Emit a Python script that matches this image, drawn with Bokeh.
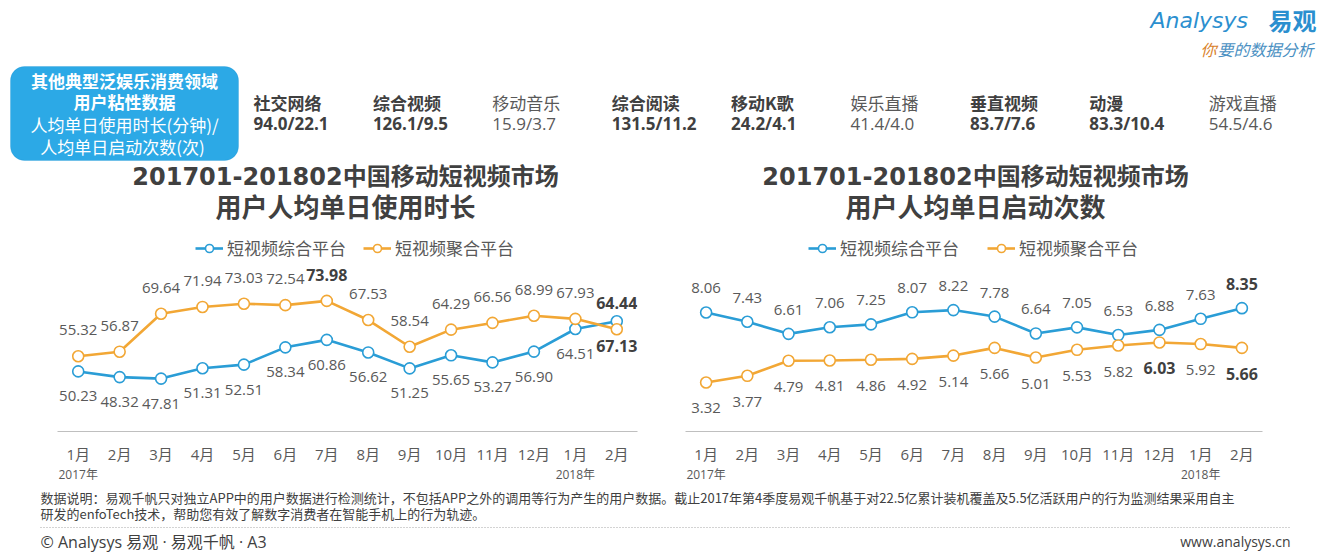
from bokeh.plotting import figure
from bokeh.models import (FactorRange, Range1d, CategoricalAxis, Label, Legend,
                          LegendItem, BoxAnnotation, CustomJSTickFormatter)
from bokeh.layouts import column, row
from bokeh.embed import file_html
from bokeh.resources import INLINE
from bokeh.core.properties import value

# ---------------- data ----------------
month_keys = ["2017-01", "2017-02", "2017-03", "2017-04", "2017-05", "2017-06", "2017-07",
              "2017-08", "2017-09", "2017-10", "2017-11", "2017-12", "2018-01", "2018-02"]
month_labels = ["1月", "2月", "3月", "4月", "5月", "6月", "7月", "8月", "9月", "10月",
                "11月", "12月", "1月", "2月"]
year_keys = ["2017-01", "2018-01"]
year_labels = ["2017年", "2018年"]

series_names = ["短视频综合平台", "短视频聚合平台"]

duration_zonghe = [50.23, 48.32, 47.81, 51.31, 52.51, 58.34, 60.86, 56.62, 51.25, 55.65,
                   53.27, 56.90, 64.51, 67.13]
duration_juhe = [55.32, 56.87, 69.64, 71.94, 73.03, 72.54, 73.98, 67.53, 58.54, 64.29,
                 66.56, 68.99, 67.93, 64.44]
launch_zonghe = [8.06, 7.43, 6.61, 7.06, 7.25, 8.07, 8.22, 7.78, 6.64, 7.05, 6.53, 6.88,
                 7.63, 8.35]
launch_juhe = [3.32, 3.77, 4.79, 4.81, 4.86, 4.92, 5.14, 5.66, 5.01, 5.53, 5.82, 6.03,
               5.92, 5.66]

stat_categories = ["社交网络", "综合视频", "移动音乐", "综合阅读", "移动K歌", "娱乐直播",
                   "垂直视频", "动漫", "游戏直播"]
stat_values = ["94.0/22.1", "126.1/9.5", "15.9/3.7", "131.5/11.2", "24.2/4.1", "41.4/4.0",
               "83.7/7.6", "83.3/10.4", "54.5/4.6"]
stat_bold = [True, True, False, True, True, False, True, True, False]

box_lines = ["其他典型泛娱乐消费领域", "用户粘性数据", "人均单日使用时长(分钟)/", "人均单日启动次数(次)"]

title_line1 = "201701-201802中国移动短视频市场"
left_title2 = "用户人均单日使用时长"
right_title2 = "用户人均单日启动次数"

note_lines = [
    "数据说明：易观千帆只对独立APP中的用户数据进行检测统计，不包括APP之外的调用等行为产生的用户数据。截止2017年第4季度易观千帆基于对22.5亿累计装机覆盖及5.5亿活跃用户的行为监测结果采用自主",
    "研发的enfoTech技术，帮助您有效了解数字消费者在智能手机上的行为轨迹。",
]
footer_left = "© Analysys 易观 · 易观千帆 · A3"
footer_right = "www.analysys.cn"

# ---------------- styles ----------------
BLUE = "#2A9DD6"
ORANGE = "#F2A735"
DARK = "#404040"
GREY = "#595959"
CJK = "'Noto Sans CJK SC'"
NUM = "'Open Sans', 'Noto Sans CJK SC'"
TITLE_FONT = "'DejaVu Sans', 'Noto Sans CJK SC'"

HDR_H = 162
FRAME_H = 269
BELOW_H = 54
FTR_H = 559 - HDR_H - FRAME_H - BELOW_H


def blank(width, height, y0, y1):
    f = figure(width=width, height=height, x_range=Range1d(0, width), y_range=Range1d(y1, y0),
               output_backend="svg", toolbar_location=None, x_axis_location=None,
               y_axis_location=None, min_border=0)
    f.outline_line_color = None
    f.grid.visible = False
    f.background_fill_color = "white"
    f.border_fill_color = "white"
    return f


# ---------------- header ----------------
hdr = blank(1325, HDR_H, 0, HDR_H)
hdr.add_layout(BoxAnnotation(left=10, right=238, top=66, bottom=160, fill_color="#2CA9E6",
                             fill_alpha=1.0, line_color="#2196D3", line_width=1,
                             border_radius=14, level="underlay"))
hdr.text(x=[124, 124], y=[80, 101], text=box_lines[:2], text_align="center",
         text_baseline="middle", text_font=value(CJK), text_font_size="17px",
         text_font_style="bold", text_color="white")
hdr.text(x=[124, 122], y=[124, 146], text=box_lines[2:], text_align="center",
         text_baseline="middle", text_font=value(CJK), text_font_size="17px",
         text_color="white")

for i, (cat, val, b) in enumerate(zip(stat_categories, stat_values, stat_bold)):
    x = 253 + i * 119.4
    style = "bold" if b else "normal"
    col = DARK if b else GREY
    hdr.text(x=[x], y=[102], text=[cat], text_align="left", text_baseline="middle",
             text_font=value(CJK), text_font_size="17px", text_font_style=style,
             text_color=col)
    hdr.text(x=[x], y=[123], text=[val], text_align="left", text_baseline="middle",
             text_font=value(NUM), text_font_size="17px", text_font_style=style,
             text_color=col)

# logo
hdr.text(x=[1150], y=[20], text=["Analysys"], text_align="left", text_baseline="middle",
         text_font=value("'DejaVu Sans'"), text_font_size="22px", text_font_style="italic",
         text_color="#2B8FCF")
hdr.text(x=[1268], y=[19], text=["易观"], text_align="left", text_baseline="middle",
         text_font=value(CJK), text_font_size="24px", text_font_style="bold",
         text_color="#2B8FCF")
hdr.text(x=[1200], y=[48], text=["你"], text_align="left", text_baseline="middle",
         text_font=value(CJK), text_font_size="16px", text_font_style="italic",
         text_color="#D9822B")
hdr.text(x=[1217], y=[48], text=["要的数据分析"], text_align="left", text_baseline="middle",
         text_font=value(CJK), text_font_size="16px", text_font_style="italic",
         text_color="#4A90C2")


# ---------------- charts ----------------
def chart(frame_w, bl, br, y_start, y_end, title2, series, legend_x, legend_spacing, title_x):
    p = figure(frame_width=frame_w, frame_height=FRAME_H, x_range=FactorRange(factors=month_keys),
               y_range=Range1d(y_start, y_end), output_backend="svg", toolbar_location=None,
               y_axis_location=None, min_border_left=bl, min_border_right=br,
               min_border_top=0, min_border_bottom=BELOW_H)
    p.outline_line_color = None
    p.grid.visible = False
    p.background_fill_color = "white"
    p.border_fill_color = "white"

    ax = p.xaxis[0]
    ax.formatter = CustomJSTickFormatter(
        args=dict(keys=month_keys, labels=month_labels),
        code="const i = keys.indexOf(tick); return i >= 0 ? labels[i] : '';")
    ax.axis_line_color = "#BFBFBF"
    ax.axis_line_width = 1.2
    ax.major_tick_line_color = None
    ax.minor_tick_line_color = None
    ax.major_tick_out = 0
    ax.major_tick_in = 0
    ax.major_label_standoff = 12
    ax.major_label_text_font_size = "15px"
    ax.major_label_text_color = GREY
    ax.major_label_text_font = NUM

    ax2 = CategoricalAxis(
        formatter=CustomJSTickFormatter(
            args=dict(keys=year_keys, labels=year_labels),
            code="const i = keys.indexOf(tick); return i >= 0 ? labels[i] : '';"),
        axis_line_color=None, major_tick_line_color=None, minor_tick_line_color=None,
        major_tick_out=0, major_tick_in=0,
        major_label_standoff=-1, major_label_text_font_size="12px",
        major_label_text_color=GREY, major_label_text_font=NUM)
    p.add_layout(ax2, "below")

    items = []
    for name, vals, color, off in series:
        ln = p.line(x=month_keys, y=vals, line_color=color, line_width=2.6)
        sc = p.scatter(x=month_keys, y=vals, size=11, fill_color="white", line_color=color,
                       line_width=1.6)
        items.append(LegendItem(label=name, renderers=[ln, sc]))
        bold_idx = {vals.index(max(vals)), len(vals) - 1}
        nk = [k for i, k in enumerate(month_keys) if i not in bold_idx]
        nv = [v for i, v in enumerate(vals) if i not in bold_idx]
        bk = [k for i, k in enumerate(month_keys) if i in bold_idx]
        bv = [v for i, v in enumerate(vals) if i in bold_idx]
        p.text(x=nk, y=nv, text=[f"{v:.2f}" for v in nv], y_offset=off, text_align="center",
               text_baseline="middle", text_font=value("'Open Sans'"), text_font_size="15px",
               text_color=GREY)
        p.text(x=bk, y=bv, text=[f"{v:.2f}" for v in bv], y_offset=off, text_align="center",
               text_baseline="middle", text_font=value("'Open Sans'"), text_font_size="16px",
               text_font_style="bold", text_color=DARK)

    leg = Legend(items=items, orientation="horizontal", location=(legend_x, 171), padding=0,
                 margin=0, border_line_color=None, background_fill_alpha=0, glyph_width=28,
                 glyph_height=20, label_height=20, label_standoff=4, spacing=legend_spacing,
                 label_text_font_size="17px", label_text_color=GREY, label_text_font=CJK)
    p.add_layout(leg)

    p.add_layout(Label(x=title_x, y=255, x_units="screen", y_units="screen", text=title_line1,
                       text_align="center", text_baseline="middle", text_font=TITLE_FONT,
                       text_font_size="24px", text_font_style="bold", text_color=DARK))
    p.add_layout(Label(x=title_x, y=226, x_units="screen", y_units="screen", text=title2,
                       text_align="center", text_baseline="middle", text_font=CJK,
                       text_font_size="26px", text_font_style="bold", text_color=DARK))
    return p


left = chart(580, 57, 25, 30, 30 + FRAME_H / 2.97, left_title2,
             [(series_names[0], duration_zonghe, BLUE, 25),
              (series_names[1], duration_juhe, ORANGE, -26)],
             138, 17, 288)
right = chart(577, 23, 63, 0, FRAME_H / 14.77, right_title2,
              [(series_names[0], launch_zonghe, BLUE, -24),
               (series_names[1], launch_juhe, ORANGE, 26)],
              123, 28, 290)

# ---------------- footer ----------------
ftr = blank(1325, FTR_H, 485, 559)
ftr.text(x=[40, 40], y=[497, 513], text=note_lines, text_align="left", text_baseline="middle",
         text_font=value(CJK), text_font_size="13px", text_color=DARK)
ftr.segment(x0=[40], y0=[527], x1=[1290], y1=[527], line_color="#A6A6A6", line_width=1,
            line_dash="1 2")
ftr.text(x=[40], y=[541], text=[footer_left], text_align="left", text_baseline="middle",
         text_font=value(NUM), text_font_size="16px", text_color=DARK)
ftr.text(x=[1290], y=[541], text=[footer_right], text_align="right", text_baseline="middle",
         text_font=value(NUM), text_font_size="14px", text_color=DARK)

layout = column(hdr, row(left, right, spacing=0), ftr, spacing=0)
open("out.html", "w").write(file_html(layout, INLINE))
